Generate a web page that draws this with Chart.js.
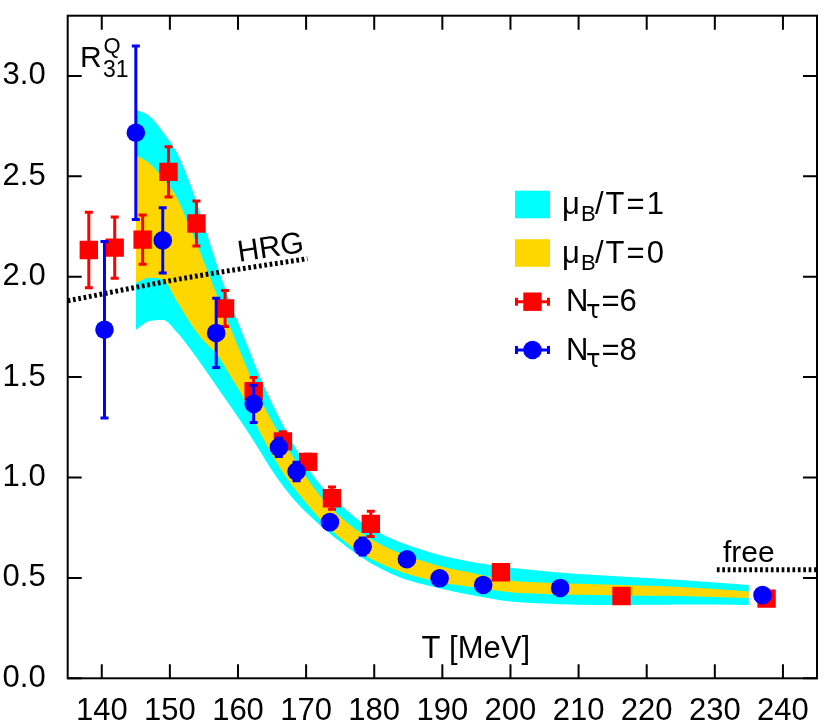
<!DOCTYPE html>
<html><head><meta charset="utf-8">
<script src="https://cdn.jsdelivr.net/npm/chart.js@4.4.1/dist/chart.umd.min.js"></script>
<style>html,body{margin:0;padding:0;background:#fff}#wrap{width:830px;height:727px;position:relative}</style>
</head><body><div id="wrap"><canvas id="c"></canvas></div>
<script>
// ---- data ----
const bandT  = [145,147,149,151,153,155,157,159,161,163,165,167,169,171,173,175,178,181,184,187,190,195,200,205,210,215,220,225,230,235];
const cyanHi = [2.833,2.80,2.72,2.62,2.46,2.26,2.05,1.86,1.69,1.52,1.37,1.235,1.115,1.01,0.93,0.865,0.78,0.72,0.675,0.64,0.61,0.575,0.55,0.533,0.52,0.51,0.50,0.49,0.477,0.465];
const goldHi = [2.605,2.565,2.49,2.395,2.24,2.075,1.90,1.736,1.57,1.41,1.28,1.16,1.055,0.955,0.87,0.805,0.725,0.665,0.62,0.585,0.555,0.52,0.487,0.476,0.471,0.466,0.461,0.455,0.445,0.432];
const goldLo = [1.969,1.995,1.985,1.88,1.77,1.68,1.61,1.50,1.385,1.24,1.115,1.005,0.915,0.835,0.76,0.70,0.625,0.57,0.53,0.50,0.476,0.452,0.428,0.42,0.416,0.413,0.411,0.41,0.405,0.40];
const cyanLo = [1.736,1.78,1.785,1.725,1.64,1.545,1.447,1.35,1.25,1.145,1.035,0.94,0.86,0.795,0.735,0.68,0.605,0.545,0.50,0.47,0.445,0.41,0.382,0.372,0.366,0.365,0.366,0.368,0.368,0.365];

const redT = [138.1,141.9,146.0,149.8,153.9,158.1,162.3,166.6,170.3,173.8,179.5,198.6,216.3,237.6];
const redV = [2.133,2.145,2.185,2.522,2.265,1.842,1.43,1.18,1.078,0.897,0.769,0.528,0.41,0.397];
const redE = [0.196,0.16,0.13,0.133,0.12,0.097,0.075,0.055,0.045,0.063,0.07,0,0,0];

const blueT = [140.4,145.0,148.95,156.8,162.3,166.0,168.6,173.5,178.3,184.8,189.6,196.0,207.3,237.0];
const blueV = [1.736,2.717,2.181,1.72,1.367,1.15,1.03,0.778,0.656,0.593,0.498,0.465,0.45,0.414];
const blueE = [0.447,0.44,0.17,0.18,0.10,0.053,0.053,0,0.05,0,0,0,0,0];

const hrgT = [135,152.5,170.2];
const hrgV = [1.88,1.995,2.09];
const freeT = [230.3,245];
const freeV = [0.54,0.54];

const xTicks = [140,150,160,170,180,190,200,210,220,230,240];
const yTicks = [0,0.5,1.0,1.5,2.0,2.5,3.0];

const legendNames = [["μ","B","/T=1"],["μ","B","/T=0"],["N","τ","=6"],["N","τ","=8"]];

// ---- helpers ----
const FONT = '"Liberation Sans", Arial, Helvetica, sans-serif';
const GREEK = '"DejaVu Sans", "Liberation Sans", sans-serif';
const pts = (xs, ys) => xs.map((x,i)=>({x:x, y:ys[i]}));
const CYAN = '#00ffff', GOLD = '#ffd700', RED = '#ff0000', BLUE = '#0000ff';

function txt(ctx, s, x, y, size, spacing, fam){
  ctx.font = size + 'px ' + (fam || FONT);
  ctx.letterSpacing = (spacing||0) + 'px';
  ctx.fillText(s, x, y);
  const w = ctx.measureText(s).width;
  ctx.letterSpacing = '0px';
  return x + w;
}

const deco = {
  id:'deco',
  beforeDatasetDraw(chart, args){
    const ds = chart.data.datasets[args.index];
    if (!ds.errors) return;
    const xs = chart.scales.x, ys = chart.scales.y, ctx = chart.ctx;
    ctx.save();
    ctx.strokeStyle = ds.errColor; ctx.lineWidth = 3; ctx.lineCap = 'butt';
    ds.data.forEach((p,i)=>{
      const e = ds.errors[i]; if (!e) return;
      const px = xs.getPixelForValue(p.x);
      const t = ys.getPixelForValue(p.y+e), b = ys.getPixelForValue(p.y-e);
      ctx.beginPath();
      ctx.moveTo(px, t); ctx.lineTo(px, b);
      ctx.moveTo(px-4, t+1.5); ctx.lineTo(px+4, t+1.5);
      ctx.moveTo(px-4, b-1.5); ctx.lineTo(px+4, b-1.5);
      ctx.stroke();
    });
    ctx.restore();
  },
  afterDraw(chart){
    const ctx = chart.ctx, a = chart.chartArea, xs = chart.scales.x, ys = chart.scales.y;
    ctx.save();
    ctx.strokeStyle = '#000'; ctx.lineWidth = 2;
    ctx.strokeRect(a.left, a.top, a.right-a.left, a.bottom-a.top);
    const TL = 14;
    ctx.beginPath();
    xTicks.forEach(v=>{
      const p = xs.getPixelForValue(v);
      ctx.moveTo(p, a.bottom); ctx.lineTo(p, a.bottom-TL);
      ctx.moveTo(p, a.top); ctx.lineTo(p, a.top+TL);
    });
    yTicks.forEach(v=>{
      const p = ys.getPixelForValue(v);
      ctx.moveTo(a.left, p); ctx.lineTo(a.left+TL, p);
      ctx.moveTo(a.right, p); ctx.lineTo(a.right-TL, p);
    });
    ctx.stroke();

    ctx.fillStyle = '#000'; ctx.textAlign = 'left'; ctx.textBaseline = 'alphabetic';
    // R^Q_31
    txt(ctx, 'R', 80, 66.7, 30);
    txt(ctx, 'Q', 103.5, 53.3, 22);
    txt(ctx, '31', 103, 77, 23);
    // axis title
    txt(ctx, 'T [MeV]', 421.5, 658.3, 31);
    // free
    txt(ctx, 'free', 723, 561.7, 30);
    // HRG
    ctx.save();
    ctx.translate(239, 261.7); ctx.rotate(-8.5*Math.PI/180);
    txt(ctx, 'HRG', 0, 0, 30);
    ctx.restore();

    // legend
    const lx = 515, lw = 35;
    const rows = [204.5, 253, 301.7, 350];
    ctx.fillStyle = CYAN; ctx.fillRect(lx, rows[0]-13.8, lw, 27.6);
    ctx.fillStyle = GOLD; ctx.fillRect(lx, rows[1]-13.8, lw, 27.6);
    [[RED,'sq'],[BLUE,'ci']].forEach((s,k)=>{
      const y = rows[2+k];
      ctx.strokeStyle = s[0]; ctx.fillStyle = s[0]; ctx.lineWidth = 3;
      ctx.beginPath();
      ctx.moveTo(lx, y); ctx.lineTo(lx+lw, y);
      ctx.moveTo(lx+1.5, y-4); ctx.lineTo(lx+1.5, y+4);
      ctx.moveTo(lx+lw-1.5, y-4); ctx.lineTo(lx+lw-1.5, y+4);
      ctx.stroke();
      if (s[1]==='sq') { ctx.fillRect(lx+lw/2-9.2, y-9.2, 18.4, 18.4); }
      else { ctx.beginPath(); ctx.arc(lx+lw/2, y, 9.3, 0, Math.PI*2); ctx.fill(); }
    });
    ctx.fillStyle = '#000';
    legendNames.forEach((n,i)=>{
      const by = rows[i] + 9.5;
      if (i < 2) {
        txt(ctx, n[0], 562, by, 31);
        txt(ctx, n[1], 581, by + 7, 22);
        txt(ctx, n[2], 595, by, 31, 2);
      } else {
        txt(ctx, n[0], 566, by, 31);
        const e = txt(ctx, n[1], 586, by + 7, 24, 0, GREEK);
        txt(ctx, n[2], Math.min(Math.max(e + 1, 600), 604), by, 31);
      }
    });
    ctx.restore();
  }
};

const bandCommon = {type:'line', showLine:true, pointRadius:0, borderWidth:0, borderColor:'rgba(0,0,0,0)', cubicInterpolationMode:'monotone'};

new Chart(document.getElementById('c'), {
  type:'line',
  data:{ datasets:[
    {label:'Nτ=8', data:pts(blueT, blueV), errors:blueE, errColor:BLUE, showLine:false, pointStyle:'circle', pointRadius:9.3, backgroundColor:BLUE, borderWidth:0, borderColor:BLUE},
    {label:'Nτ=6', data:pts(redT, redV), errors:redE, errColor:RED, showLine:false, pointStyle:'rect', pointRadius:13, backgroundColor:RED, borderWidth:0, borderColor:RED},
    {label:'HRG', data:pts(hrgT, hrgV), showLine:true, pointRadius:0, borderColor:'#000', borderWidth:5, borderDash:[2.7,2.7], fill:false, cubicInterpolationMode:'monotone'},
    {label:'free', data:pts(freeT, freeV), showLine:true, pointRadius:0, borderColor:'#000', borderWidth:5, borderDash:[2.7,2.7], fill:false},
    Object.assign({label:'μB/T=0 hi', data:pts(bandT, goldHi), fill:'+1', backgroundColor:GOLD}, bandCommon),
    Object.assign({label:'μB/T=0 lo', data:pts(bandT, goldLo), fill:false}, bandCommon),
    Object.assign({label:'μB/T=1 hi', data:pts(bandT, cyanHi), fill:'+1', backgroundColor:CYAN}, bandCommon),
    Object.assign({label:'μB/T=1 lo', data:pts(bandT, cyanLo), fill:false}, bandCommon)
  ]},
  options:{
    responsive:true, maintainAspectRatio:false, animation:false, events:[],
    layout:{padding:{left:0, top:15.7, right:10, bottom:0}},
    plugins:{legend:{display:false}, tooltip:{enabled:false}},
    scales:{
      x:{type:'linear', min:135, max:245, grid:{display:false}, border:{display:false},
         afterBuildTicks:(s)=>{ s.ticks = xTicks.map(v=>({value:v})); },
         afterFit:(s)=>{ s.height = 48.7; s.paddingLeft = 0; s.paddingRight = 0; s.paddingTop = 0; s.paddingBottom = 0; },
         ticks:{color:'#000', font:{family:FONT, size:31}, padding:7, maxRotation:0, autoSkip:false, callback:(v)=>String(v)}},
      y:{type:'linear', min:0, max:3.3, grid:{display:false}, border:{display:false},
         afterBuildTicks:(s)=>{ s.ticks = yTicks.map(v=>({value:v})); },
         afterFit:(s)=>{ s.width = 67.7; s.paddingTop = 0; s.paddingBottom = 0; s.paddingLeft = 0; s.paddingRight = 0; },
         ticks:{color:'#000', font:{family:FONT, size:31}, padding:14, autoSkip:false, callback:(v)=>Number(v).toFixed(1)}}
    }
  },
  plugins:[deco]
});
</script></body></html>
